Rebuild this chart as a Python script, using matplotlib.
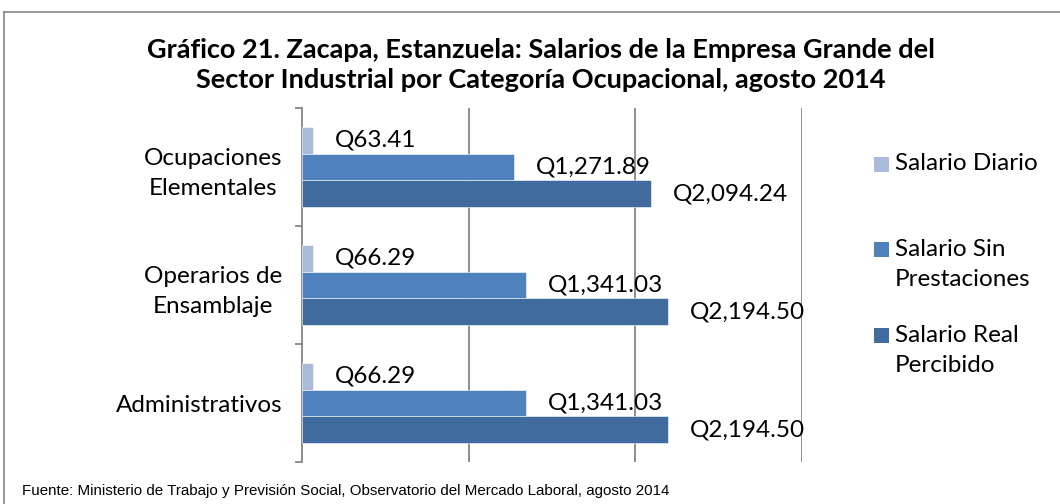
import matplotlib.pyplot as plt
from matplotlib.patches import Rectangle
from matplotlib.lines import Line2D

# Data
categorias = ["Administrativos", "Operarios de\nEnsamblaje", "Ocupaciones\nElementales"]
salario_diario = [66.29, 66.29, 63.41]
salario_sin_prest = [1341.03, 1341.03, 1271.89]
salario_real = [2194.50, 2194.50, 2094.24]
series_nombres = ["Salario Diario", "Salario Sin\nPrestaciones", "Salario Real\nPercibido"]
colores = ["#A9BADA", "#4F81BD", "#3F6B9E"]

plt.rcParams['font.family'] = ['Lato', 'DejaVu Sans']

fig = plt.figure(figsize=(10.6, 5.04), dpi=100)

# chart border (top and left edges only visible)
fig.lines.append(Line2D([4 / 1060, 1.0], [1 - 12 / 504, 1 - 12 / 504],
                        transform=fig.transFigure, color="#868686", linewidth=1.2))
fig.lines.append(Line2D([4 / 1060, 4 / 1060], [0, 1 - 12 / 504],
                        transform=fig.transFigure, color="#868686", linewidth=1.2))

ax = fig.add_axes([302 / 1060, 42 / 504, 500 / 1060, 354 / 504])

y = list(range(len(categorias)))
h = 0.225
series = [salario_diario, salario_sin_prest, salario_real]
offsets = [h, 0, -h]
for vals, off, col in zip(series, offsets, colores):
    pos = [yy + off for yy in y]
    ax.barh(pos, vals, height=h, color=col, edgecolor="white", linewidth=0.4, zorder=3)
    for p, v in zip(pos, vals):
        ax.annotate("Q{:,.2f}".format(v), (v, p), xytext=(16, 0),
                    textcoords="offset points", va="center", ha="left", fontsize=17.5)

ax.set_xlim(0, 3000)
ax.set_ylim(-0.5, 2.5)
ax.set_xticks([1000, 2000, 3000])
ax.set_xticklabels([])
ax.tick_params(axis="x", length=0)
ax.grid(axis="x", color="#868686", linewidth=1.3, zorder=0)

ax.set_yticks(y)
ax.set_yticklabels(categorias, fontsize=17.5, multialignment="center", linespacing=1.55)
ax.set_yticks([-0.5, 0.5, 1.5, 2.5], minor=True)
ax.tick_params(axis="y", which="major", length=0, pad=14)
ax.tick_params(axis="y", which="minor", length=5, color="#868686", width=1.3)

for s in ["top", "right", "bottom"]:
    ax.spines[s].set_visible(False)
ax.spines["left"].set_color("#868686")
ax.spines["left"].set_linewidth(1.3)

fig.text(541 / 1060, 1 - 65 / 504,
         "Gráfico 21. Zacapa, Estanzuela: Salarios de la Empresa Grande del\n"
         "Sector Industrial por Categoría Ocupacional, agosto 2014",
         ha="center", va="center", fontsize=19.5, fontweight="bold", linespacing=1.3)

# legend
ley_y = [164, 249.5, 335.5]
for nombre, col, yy in zip(series_nombres, colores, ley_y):
    fig.patches.append(Rectangle((874 / 1060, 1 - (yy + 7.5) / 504), 15 / 1060, 15 / 504,
                                 transform=fig.transFigure, facecolor=col, edgecolor="none"))
    fig.text(895 / 1060, 1 - (yy - 11) / 504, nombre, ha="left", va="top", fontsize=17.5,
             linespacing=1.55, transform=fig.transFigure)

fig.text(22 / 1060, 1 - 491 / 504,
         "Fuente: Ministerio de Trabajo y Previsión Social, Observatorio del Mercado Laboral, agosto 2014",
         ha="left", va="center", fontsize=10.9,
         family=["Liberation Sans", "DejaVu Sans"])

fig.savefig("out.png", dpi=100)
